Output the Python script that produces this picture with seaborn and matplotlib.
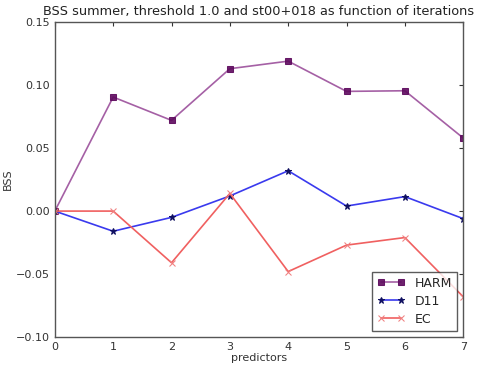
import matplotlib
matplotlib.use("Agg")
import matplotlib.pyplot as plt
import seaborn as sns
import pandas as pd

sns.set_style("white")
plt.rcParams['font.family'] = ['DejaVu Sans']

predictors = [0, 1, 2, 3, 4, 5, 6, 7]
harm = [0.0, 0.0905, 0.072, 0.113, 0.119, 0.095, 0.0955, 0.058]
d11 = [0.0, -0.016, -0.005, 0.012, 0.032, 0.004, 0.0115, -0.006]
ec = [0.0, 0.0, -0.041, 0.014, -0.048, -0.027, -0.021, -0.068]

fig = plt.figure(figsize=(4.81, 3.68), dpi=100)
ax = fig.add_axes([0.114, 0.084, 0.849, 0.856])

df = pd.DataFrame({"predictors": predictors, "HARM": harm, "D11": d11, "EC": ec})

sns.lineplot(data=df, x="predictors", y="HARM", ax=ax, color="#9b4f9b", alpha=0.9,
             marker="s", markersize=5, markerfacecolor="#5e0a5e", markeredgecolor="#5e0a5e",
             label="HARM", linewidth=1.2)
sns.lineplot(data=df, x="predictors", y="D11", ax=ax, color="#3a3aee",
             marker="*", markersize=4.5, markerfacecolor="#101060", markeredgecolor="#101060",
             label="D11", linewidth=1.2)
sns.lineplot(data=df, x="predictors", y="EC", ax=ax, color="#f06060",
             marker="x", markersize=5, markeredgecolor="#f08080",
             label="EC", linewidth=1.2)

ax.set_xlim(0, 7)
ax.set_ylim(-0.1, 0.15)
ax.set_xticks(predictors)
ax.set_yticks([-0.10, -0.05, 0.0, 0.05, 0.10, 0.15])
ax.set_yticklabels(["\u22120.10", "\u22120.05", "0.00", "0.05", "0.10", "0.15"])
ax.tick_params(direction="in", top=True, right=True, labelsize=8, length=3, colors="#333333",
               labelcolor="#333333")
for s in ax.spines.values():
    s.set_color("#555555")
    s.set_linewidth(1.0)
ax.set_xlabel("predictors", fontsize=8, labelpad=1, color="#333333")
ax.set_ylabel("BSS", fontsize=8, color="#333333")
ax.yaxis.set_label_coords(-0.102, 0.5)
ax.set_title("BSS summer, threshold 1.0 and st00+018 as function of iterations",
             fontsize=9.3, pad=5, color="#222222")

leg = ax.legend(loc="lower right", numpoints=2, fontsize=9, frameon=True, fancybox=False,
                handlelength=2.2, borderaxespad=0.5, labelspacing=0.4)
leg.get_frame().set_edgecolor("#333333")
leg.get_frame().set_linewidth(1.0)

fig.savefig("out.png", dpi=100)
